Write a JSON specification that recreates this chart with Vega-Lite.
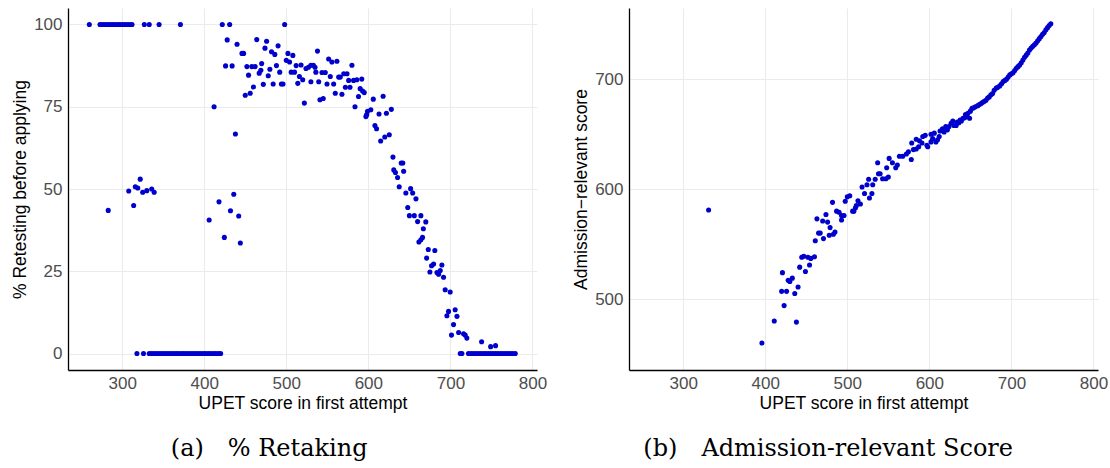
{
  "$schema": "https://vega.github.io/schema/vega-lite/v6.json",
  "padding": {"left": 11, "top": 8, "right": 2, "bottom": 2},
  "spacing": 25,
  "datasets": {
    "retake": [
      {"s":260,"p":100},{"s":273,"p":100},{"s":276,"p":100},{"s":279,"p":100},{"s":282,"p":100},{"s":285,"p":100},{"s":288,"p":100},{"s":291,"p":100},{"s":294,"p":100},{"s":297,"p":100},{"s":300,"p":100},{"s":303,"p":100},{"s":306,"p":100},{"s":309,"p":100},{"s":312,"p":100},{"s":327,"p":100},{"s":333,"p":100},{"s":345,"p":100},{"s":371,"p":100},{"s":422,"p":100},{"s":431,"p":100},{"s":498,"p":100},
      {"s":283,"p":43.5},
      {"s":308,"p":49.4},{"s":314,"p":45},{"s":316,"p":50.7},{"s":319,"p":50.3},{"s":322,"p":53},{"s":325,"p":49},{"s":330,"p":49.5},{"s":336,"p":50},{"s":339,"p":49},
      {"s":318,"p":0},{"s":326,"p":0},{"s":333,"p":0},{"s":336,"p":0},{"s":339,"p":0},{"s":342,"p":0},{"s":345,"p":0},{"s":348,"p":0},{"s":351,"p":0},{"s":354,"p":0},{"s":357,"p":0},{"s":360,"p":0},{"s":363,"p":0},{"s":366,"p":0},{"s":369,"p":0},{"s":372,"p":0},{"s":375,"p":0},{"s":378,"p":0},{"s":381,"p":0},{"s":384,"p":0},{"s":387,"p":0},{"s":390,"p":0},{"s":393,"p":0},{"s":396,"p":0},{"s":399,"p":0},{"s":402,"p":0},{"s":405,"p":0},{"s":408,"p":0},{"s":411,"p":0},{"s":414,"p":0},{"s":417,"p":0},{"s":420,"p":0},
      {"s":406,"p":40.6},{"s":412,"p":75},{"s":418,"p":46.1},{"s":424.5,"p":35.3},{"s":432,"p":43.4},{"s":436,"p":48.4},{"s":438,"p":66.7},{"s":442,"p":41.8},{"s":444,"p":33.6},
      {"s":428,"p":95.3},{"s":440,"p":94},{"s":446,"p":91.2},{"s":448,"p":91.2},{"s":426,"p":87.4},{"s":434,"p":87.4},{"s":452,"p":87.2},{"s":458,"p":87.2},{"s":462,"p":87.2},{"s":454,"p":84.6},{"s":450,"p":78.5},{"s":456,"p":79.1},{"s":460,"p":81},{"s":464,"p":95.4},{"s":467,"p":85.2},{"s":469,"p":86.1},{"s":470,"p":88.1},{"s":472,"p":81.8},{"s":476,"p":94.9},{"s":474,"p":92.8},{"s":478,"p":84.4},{"s":480,"p":86.4},{"s":482,"p":91.7},{"s":486,"p":90.9},{"s":484,"p":81.9},{"s":488,"p":87.5},{"s":490,"p":93.5},{"s":492,"p":85.5},{"s":494,"p":81.9},{"s":496,"p":81.9},{"s":502,"p":91.2},{"s":508,"p":90.6},{"s":500,"p":89.1},{"s":504,"p":88.6},{"s":506,"p":85.5},{"s":510,"p":85.5},{"s":512,"p":87.5},{"s":518,"p":87.7},{"s":516,"p":84.2},{"s":520,"p":83.2},{"s":514,"p":82.1},{"s":522,"p":76.1},{"s":524,"p":86.6},{"s":527,"p":87},{"s":530,"p":87.6},{"s":533,"p":87.6},{"s":535,"p":87},{"s":530,"p":82.6},{"s":538,"p":91.9},{"s":536,"p":85.5},{"s":539.5,"p":82.6},{"s":541,"p":77.1},{"s":545,"p":77.5},{"s":543.5,"p":85.4},{"s":547.5,"p":85.4},{"s":549.6,"p":81.9},{"s":551.6,"p":89.5},{"s":555.6,"p":88.6},{"s":561.7,"p":88.8},{"s":553.6,"p":84.2},{"s":557.7,"p":81.9},{"s":559.7,"p":79.1},{"s":563.8,"p":84},{"s":565.8,"p":84},{"s":567.8,"p":78.8},{"s":570,"p":85},{"s":574,"p":85},{"s":572,"p":80.9},{"s":577.6,"p":80.9},{"s":580,"p":87.6},{"s":576,"p":83},{"s":582,"p":83},{"s":583.7,"p":75},{"s":586,"p":83.2},{"s":588,"p":78.1},{"s":590,"p":80.5},{"s":593,"p":79.8},{"s":595,"p":79.3},{"s":592,"p":83.4},{"s":598,"p":72.6},{"s":597,"p":72},{"s":599,"p":73.6},{"s":603,"p":74.1},{"s":606,"p":77.3},{"s":618,"p":78.2},{"s":613,"p":72.8},{"s":622,"p":73},{"s":628,"p":74.2},{"s":608,"p":69.3},{"s":610,"p":68.3},{"s":615,"p":64.6},{"s":620,"p":65.8},{"s":625.5,"p":66.5},{"s":630,"p":59.7},{"s":640,"p":57.9},{"s":642,"p":57.9},{"s":631,"p":55.8},{"s":633,"p":55},{"s":643,"p":55.4},{"s":635.6,"p":53.5},{"s":637.6,"p":50.7},{"s":645.7,"p":48.8},{"s":654,"p":48.8},{"s":651.5,"p":50.1},{"s":658,"p":47},{"s":648,"p":44.4},{"s":650,"p":41.9},{"s":656,"p":41.9},{"s":664,"p":41.9},{"s":660,"p":40.1},{"s":670,"p":40},{"s":667,"p":37.9},{"s":666,"p":35.3},{"s":664,"p":34.6},{"s":661.6,"p":33.9},{"s":673,"p":31.6},{"s":681,"p":31.3},{"s":671,"p":29},{"s":677,"p":26.7},{"s":679.5,"p":27.2},{"s":689.6,"p":26.9},{"s":675,"p":24.8},{"s":683.6,"p":24.6},{"s":685.6,"p":24.1},{"s":687.6,"p":25.2},{"s":691.6,"p":23.2},{"s":693.6,"p":19.4},{"s":699.7,"p":18.7},{"s":705.8,"p":13.3},{"s":697.7,"p":12.8},{"s":695.7,"p":11.5},{"s":708,"p":11.3},{"s":703.8,"p":8.8},{"s":701.3,"p":5.6},{"s":710,"p":6.4},{"s":716,"p":6},{"s":718,"p":5.6},{"s":720,"p":4.7},{"s":738,"p":3.6},{"s":749,"p":2.1},{"s":755,"p":2.4},
      {"s":712,"p":0},{"s":714,"p":0},{"s":722,"p":0},{"s":725,"p":0},{"s":728,"p":0},{"s":731,"p":0},{"s":734,"p":0},{"s":737,"p":0},{"s":740,"p":0},{"s":743,"p":0},{"s":746,"p":0},{"s":749,"p":0},{"s":752,"p":0},{"s":755,"p":0},{"s":758,"p":0},{"s":761,"p":0},{"s":764,"p":0},{"s":767,"p":0},{"s":770,"p":0},{"s":773,"p":0},{"s":776,"p":0},{"s":779,"p":0}
    ],
    "admit": [
      {"s":331,"a":581},{"s":396,"a":460},{"s":411,"a":480},{"s":423,"a":494},{"s":420,"a":507},{"s":426,"a":507},{"s":436,"a":505},{"s":440,"a":511},{"s":421,"a":524},{"s":428,"a":517},{"s":430,"a":516},{"s":433,"a":519},{"s":438,"a":479},{"s":442,"a":529},{"s":449,"a":525},{"s":444.5,"a":538},{"s":447,"a":539},{"s":452,"a":538},{"s":455.5,"a":537},{"s":460,"a":538.5},{"s":454,"a":531},{"s":461,"a":553},{"s":465,"a":560},{"s":467,"a":560},{"s":471,"a":555},{"s":463,"a":573},{"s":470,"a":571},{"s":476,"a":570},{"s":474,"a":577},{"s":478,"a":558},{"s":483,"a":559},{"s":485,"a":561},{"s":479,"a":565},{"s":482,"a":588},{"s":487,"a":580},{"s":490,"a":579},{"s":493,"a":572},{"s":493,"a":576},{"s":496,"a":576},{"s":497.5,"a":589},{"s":500,"a":593},{"s":503,"a":594},{"s":506.5,"a":580},{"s":510,"a":583},{"s":513,"a":589.5},{"s":516,"a":586.5},{"s":508,"a":580},{"s":511,"a":585},{"s":518,"a":602},{"s":524,"a":604},{"s":526,"a":609},{"s":531,"a":604},{"s":534,"a":609},{"s":538,"a":614},{"s":521,"a":596},{"s":527,"a":592},{"s":530,"a":596},{"s":537,"a":624},{"s":540,"a":614},{"s":543,"a":609.5},{"s":547,"a":609.5},{"s":550,"a":611},{"s":548,"a":619.5},{"s":551,"a":628},{"s":555,"a":624},{"s":559,"a":619.5},{"s":561,"a":622},{"s":563.5,"a":630},{"s":567.5,"a":630},{"s":572,"a":632},{"s":574.5,"a":634},{"s":578,"a":627},{"s":580.6,"a":636},{"s":584,"a":636.5},{"s":587,"a":638.6},{"s":578.5,"a":642},{"s":588,"a":644},{"s":591,"a":642},{"s":597,"a":640},{"s":602,"a":643},{"s":608,"a":643},{"s":584,"a":645.4},{"s":592,"a":648},{"s":595,"a":649},{"s":598,"a":638.6},{"s":602,"a":650},{"s":604,"a":646},{"s":606,"a":651},{"s":610,"a":645},{"s":612,"a":648},{"s":613,"a":653},{"s":616,"a":655},{"s":618,"a":652},{"s":620,"a":657},{"s":622,"a":654},{"s":624,"a":657},{"s":626.5,"a":660},{"s":628.6,"a":662},{"s":630,"a":658},{"s":632.7,"a":658},{"s":634,"a":661},{"s":636,"a":660.5},{"s":637.5,"a":663},{"s":639,"a":662},{"s":641,"a":664.5},{"s":643,"a":665},{"s":644,"a":668},{"s":645.7,"a":666.6},{"s":647,"a":669},{"s":649,"a":664.5},{"s":650,"a":671},{"s":652,"a":673.6},{"s":654,"a":674},{"s":656,"a":675},{"s":659,"a":676},{"s":661,"a":677},{"s":663,"a":678},{"s":665,"a":679},{"s":667,"a":680},{"s":669,"a":681},{"s":671,"a":683},{"s":673,"a":684},{"s":675,"a":686},{"s":677,"a":687},{"s":679,"a":690},{"s":681.5,"a":692},{"s":683,"a":692.5},{"s":685.7,"a":694},{"s":688,"a":696},{"s":690,"a":698},{"s":692,"a":699},{"s":694,"a":700},{"s":696,"a":702},{"s":698,"a":704},{"s":700,"a":705},{"s":702,"a":706},{"s":704,"a":708},{"s":706,"a":710},{"s":708,"a":711.5},{"s":710,"a":713},{"s":712,"a":715},{"s":714,"a":717.6},{"s":716,"a":720},{"s":718,"a":722},{"s":720,"a":724},{"s":722,"a":726.7},{"s":724,"a":728.5},{"s":726,"a":730},{"s":728,"a":731.5},{"s":730,"a":733},{"s":732,"a":735},{"s":734,"a":737},{"s":736,"a":739},{"s":738,"a":741},{"s":740,"a":742.5},{"s":742,"a":745},{"s":744,"a":747},{"s":746,"a":749},{"s":748,"a":750.5}
    ]
  },
  "hconcat": [
    {
      "width": 469,
      "height": 362,
      "title": {"text": "(a)\u2003% Retaking", "orient": "bottom", "anchor": "middle", "frame": "bounds", "font": "DejaVu Serif", "fontSize": 24, "fontWeight": "normal", "color": "#000000", "offset": 25, "dx": -10},
      "layer": [
        {
          "data": {"name": "retake"},
          "mark": {"type": "point", "filled": true, "shape": "circle", "size": 26, "color": "#0000CD", "opacity": 1},
          "encoding": {
            "x": {"field": "s", "type": "quantitative", "scale": {"domain": [234, 805.5], "nice": false, "zero": false}, "axis": {"title": "UPET score in first attempt", "values": [300, 400, 500, 600, 700, 800]}},
            "y": {"field": "p", "type": "quantitative", "scale": {"domain": [-5, 105], "nice": false, "zero": false}, "axis": {"title": "% Retesting before applying", "values": [0, 25, 50, 75, 100], "labelPadding": 6, "titlePadding": 4}}
          }
        },
        {
          "mark": {"type": "rule", "color": "#FF0000", "strokeDash": [4, 3], "strokeWidth": 1.2},
          "encoding": {"x": {"datum": 600}}
        }
      ]
    },
    {
      "width": 469,
      "height": 362,
      "title": {"text": "(b)\u2003Admission-relevant Score", "orient": "bottom", "anchor": "middle", "frame": "bounds", "font": "DejaVu Serif", "fontSize": 24, "fontWeight": "normal", "color": "#000000", "offset": 25, "dx": -12},
      "layer": [
        {
          "data": {"name": "admit"},
          "mark": {"type": "point", "filled": true, "shape": "circle", "size": 26, "color": "#0000CD", "opacity": 1},
          "encoding": {
            "x": {"field": "s", "type": "quantitative", "scale": {"domain": [234, 805.5], "nice": false, "zero": false}, "axis": {"title": "UPET score in first attempt", "values": [300, 400, 500, 600, 700, 800]}},
            "y": {"field": "a", "type": "quantitative", "scale": {"domain": [435.4, 764.9], "nice": false, "zero": false}, "axis": {"title": "Admission−relevant score", "values": [500, 600, 700], "labelPadding": 6, "titlePadding": 4}}
          }
        },
        {
          "mark": {"type": "rule", "color": "#FF0000", "strokeDash": [4, 3], "strokeWidth": 1.2},
          "encoding": {"x": {"datum": 600}}
        }
      ]
    }
  ],
  "config": {
    "view": {"stroke": null},
    "font": "Liberation Sans",
    "axis": {
      "domainColor": "#000000",
      "domainWidth": 1.3,
      "ticks": false,
      "grid": true,
      "gridColor": "#EBEBEB",
      "gridWidth": 1.1,
      "labelFont": "Liberation Sans",
      "labelFontSize": 17,
      "labelColor": "#4D4D4D",
      "labelPadding": 5,
      "titleFont": "Liberation Sans",
      "titleFontSize": 17.5,
      "titleFontWeight": "normal",
      "titleColor": "#000000",
      "titlePadding": 3,
      "labelFlush": false,
      "labelOverlap": false
    }
  }
}
